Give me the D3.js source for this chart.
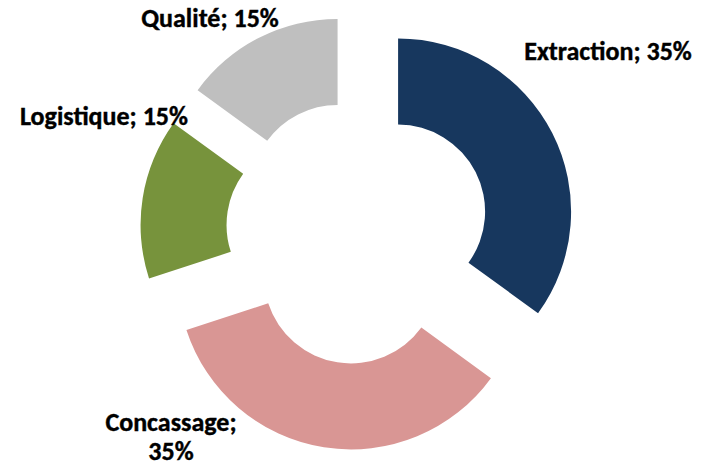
<!DOCTYPE html>
<html>
<head>
<meta charset="utf-8">
<script src="https://cdn.jsdelivr.net/npm/d3@7"></script>
<style>
  html, body { margin: 0; padding: 0; background: #fff; }
  svg text { font-family: Carlito, Calibri, 'Open Sans', 'Liberation Sans', sans-serif; font-weight: 700; fill: #000; }
</style>
</head>
<body>
<div id="chart"></div>
<script>
// donut chart — exploded slices, labels outside

const categories = ['Extraction', 'Concassage', 'Logistique', 'Qualité'];
const shares = [35, 35, 15, 15];
const colors = ['#17375E', '#D99694', '#77933C', '#BFBFBF'];

const W = 702, H = 466;
const cx = 358, cy = 232;
const outerR = 173, innerR = 87, explode = 45;

// label placement relative to the chart centre (layout only)
const labelAt = [
  { x: 250, y: -172, anchor: 'middle', lines: 1 },
  { x: -187, y: 199, anchor: 'middle', lines: 2 },
  { x: -254, y: -107, anchor: 'middle', lines: 1 },
  { x: -148, y: -205, anchor: 'middle', lines: 1 }
];

const data = categories.map((c, i) => ({ name: c, value: shares[i], color: colors[i], lab: labelAt[i] }));

const svg = d3.select('#chart').append('svg')
  .attr('width', W).attr('height', H);

const g = svg.append('g').attr('transform', `translate(${cx},${cy})`);

const pie = d3.pie().value(d => d.value).sort(null);
const arc = d3.arc().innerRadius(innerR).outerRadius(outerR);

const arcs = pie(data);

g.selectAll('path.slice')
  .data(arcs).join('path')
  .attr('class', 'slice')
  .attr('fill', d => d.data.color)
  .attr('transform', d => {
    const mid = (d.startAngle + d.endAngle) / 2;
    return `translate(${explode * Math.sin(mid)},${-explode * Math.cos(mid)})`;
  })
  .attr('d', arc);

const labels = g.selectAll('text.lbl')
  .data(arcs).join('text')
  .attr('class', 'lbl')
  .attr('font-size', '26px')
  .attr('stroke', '#000').attr('stroke-width', 0.4)
  .attr('text-anchor', d => d.data.lab.anchor)
  .attr('x', d => d.data.lab.x)
  .attr('y', d => d.data.lab.y);

labels.each(function(d) {
  const t = d3.select(this);
  if (d.data.lab.lines === 2) {
    t.append('tspan').attr('x', d.data.lab.x).attr('dy', 0).text(`${d.data.name};`);
    t.append('tspan').attr('x', d.data.lab.x).attr('dy', 29).text(`${d.data.value}%`);
  } else {
    t.text(`${d.data.name}; ${d.data.value}%`);
  }
});
</script>
</body>
</html>
